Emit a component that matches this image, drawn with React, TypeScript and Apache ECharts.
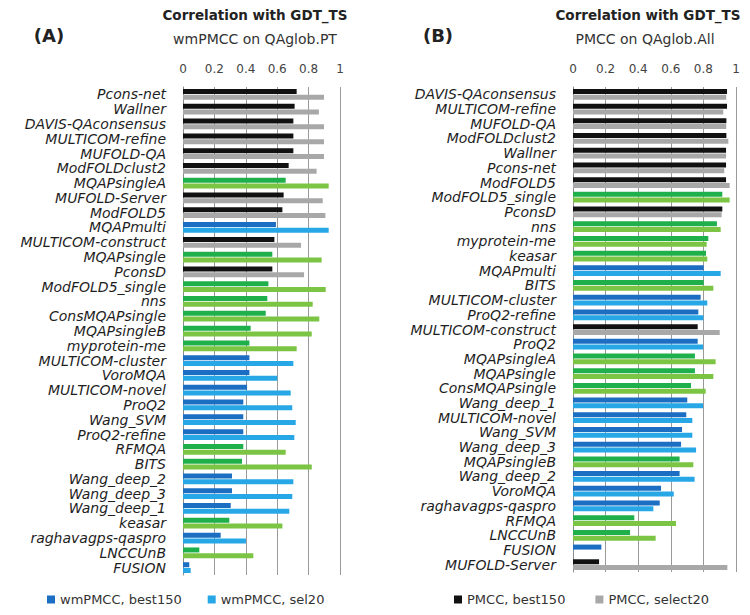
import React, { useEffect, useRef } from "react";
import * as echarts from "echarts";

// Panel A: wmPMCC on QAglob.PT
const methodsA = [
  "Pcons-net", "Wallner", "DAVIS-QAconsensus", "MULTICOM-refine", "MUFOLD-QA",
  "ModFOLDclust2", "MQAPsingleA", "MUFOLD-Server", "ModFOLD5", "MQAPmulti",
  "MULTICOM-construct", "MQAPsingle", "PconsD", "ModFOLD5_single", "nns",
  "ConsMQAPsingle", "MQAPsingleB", "myprotein-me", "MULTICOM-cluster", "VoroMQA",
  "MULTICOM-novel", "ProQ2", "Wang_SVM", "ProQ2-refine", "RFMQA", "BITS",
  "Wang_deep_2", "Wang_deep_3", "Wang_deep_1", "keasar", "raghavagps-qaspro",
  "LNCCUnB", "FUSION",
];
const best150A = [
  0.724, 0.711, 0.703, 0.703, 0.703, 0.673, 0.654, 0.641, 0.633, 0.592,
  0.582, 0.569, 0.569, 0.544, 0.537, 0.527, 0.431, 0.423, 0.423, 0.423,
  0.408, 0.384, 0.384, 0.384, 0.384, 0.376, 0.312, 0.312, 0.304, 0.295,
  0.24, 0.104, 0.04,
];
const sel20A = [
  0.898, 0.866, 0.898, 0.898, 0.898, 0.851, 0.928, 0.89, 0.907, 0.928,
  0.752, 0.883, 0.771, 0.909, 0.826, 0.868, 0.82, 0.724, 0.703, 0.601,
  0.686, 0.696, 0.718, 0.709, 0.654, 0.82, 0.703, 0.696, 0.677, 0.633,
  0.401, 0.448, 0.049,
];

// Panel B: PMCC on QAglob.All
const methodsB = [
  "DAVIS-QAconsensus", "MULTICOM-refine", "MUFOLD-QA", "ModFOLDclust2", "Wallner",
  "Pcons-net", "ModFOLD5", "ModFOLD5_single", "PconsD", "nns", "myprotein-me",
  "keasar", "MQAPmulti", "BITS", "MULTICOM-cluster", "ProQ2-refine",
  "MULTICOM-construct", "ProQ2", "MQAPsingleA", "MQAPsingle", "ConsMQAPsingle",
  "Wang_deep_1", "MULTICOM-novel", "Wang_SVM", "Wang_deep_3", "MQAPsingleB",
  "Wang_deep_2", "VoroMQA", "raghavagps-qaspro", "RFMQA", "LNCCUnB", "FUSION",
  "MUFOLD-Server",
];
const best150B = [
  0.945, 0.945, 0.941, 0.941, 0.939, 0.939, 0.939, 0.916, 0.916, 0.883, 0.83,
  0.816, 0.802, 0.802, 0.783, 0.769, 0.765, 0.765, 0.748, 0.748, 0.724,
  0.701, 0.695, 0.669, 0.663, 0.654, 0.654, 0.54, 0.532, 0.376, 0.35, 0.174,
  0.16,
];
const select20B = [
  0.94, 0.922, 0.94, 0.953, 0.939, 0.928, 0.961, 0.961, 0.912, 0.906, 0.82,
  0.824, 0.906, 0.861, 0.824, 0.8, 0.9, 0.798, 0.875, 0.861, 0.814,
  0.798, 0.732, 0.732, 0.755, 0.738, 0.746, 0.618, 0.493, 0.632, 0.507, 0,
  0.947,
];

// Method classes: consensus (black/grey), single-model (greens), others (blues)
const consensusMethods = [
  "Pcons-net", "Wallner", "DAVIS-QAconsensus", "MULTICOM-refine", "MUFOLD-QA",
  "ModFOLDclust2", "MUFOLD-Server", "ModFOLD5", "MULTICOM-construct", "PconsD",
];
const singleMethods = [
  "MQAPsingleA", "MQAPsingle", "ModFOLD5_single", "nns", "ConsMQAPsingle",
  "MQAPsingleB", "myprotein-me", "RFMQA", "BITS", "keasar", "LNCCUnB",
];

const COLORS = {
  c: ["#111111", "#a8a8a8"],
  s: ["#1fb04c", "#7cc443"],
  q: ["#1b6ec2", "#27a7e6"],
};

function cls(name: string): "c" | "s" | "q" {
  if (consensusMethods.includes(name)) return "c";
  if (singleMethods.includes(name)) return "s";
  return "q";
}

function coloredData(names: string[], vals: number[], idx: number) {
  return vals.map((v, i) => ({
    value: v,
    itemStyle: { color: COLORS[cls(names[i])][idx] },
  }));
}

const FONT = "DejaVu Sans";

function makeY(gridIndex: number, data: string[]) {
  return {
    type: "category",
    gridIndex,
    data,
    inverse: true,
    axisTick: { show: false },
    axisLine: { show: true, lineStyle: { color: "#8c8c8c", width: 1 } },
    axisLabel: {
      fontStyle: "italic",
      fontFamily: FONT,
      fontSize: 14,
      lineHeight: 14,
      color: "#1e1e1e",
      margin: 17,
      interval: 0,
    },
  };
}

function makeX(gridIndex: number) {
  return {
    type: "value",
    gridIndex,
    position: "top",
    min: 0,
    max: 1,
    interval: 0.2,
    axisLine: { show: false },
    axisTick: { show: false },
    axisLabel: {
      fontFamily: FONT,
      fontSize: 12,
      color: "#444",
      margin: 12,
    },
    splitLine: { show: true, lineStyle: { color: "#9a9a9a", width: 1 } },
  };
}

const titleStyle = { fontFamily: FONT, fontSize: 13.5, fontWeight: "bold", color: "#222" };
const subStyle = { fontFamily: FONT, fontSize: 14, fontWeight: "normal", color: "#333" };
const tagStyle = { fontFamily: FONT, fontSize: 18, fontWeight: "bold", color: "#222" };
const legendText = { fontFamily: FONT, fontSize: 13, color: "#333" };

export default function App() {
  const ref = useRef<HTMLDivElement>(null);
  useEffect(() => {
    if (!ref.current) return;
    const chart = echarts.init(ref.current, null, { renderer: "svg" });
    const barBase = { type: "bar", barWidth: 5, barGap: "15%", barCategoryGap: "30%" };
    chart.setOption({
      animation: false,
      backgroundColor: "#ffffff",
      title: [
        { text: "Correlation with GDT_TS", left: 255, top: 8, textAlign: "center", padding: 0, textStyle: titleStyle },
        { text: "wmPMCC on QAglob.PT", left: 255, top: 32, textAlign: "center", padding: 0, textStyle: subStyle },
        { text: "(A)", left: 49, top: 26, textAlign: "center", padding: 0, textStyle: tagStyle },
        { text: "Correlation with GDT_TS", left: 648, top: 8, textAlign: "center", padding: 0, textStyle: titleStyle },
        { text: "PMCC on QAglob.All", left: 645, top: 32, textAlign: "center", padding: 0, textStyle: subStyle },
        { text: "(B)", left: 438, top: 26, textAlign: "center", padding: 0, textStyle: tagStyle },
      ],
      legend: [
        {
          data: ["wmPMCC, best150", "wmPMCC, sel20"],
          left: 47,
          top: 593,
          padding: 0,
          icon: "rect",
          itemWidth: 8,
          itemHeight: 8,
          itemGap: 26,
          textStyle: legendText,
        },
        {
          data: ["PMCC, best150", "PMCC, select20"],
          left: 454,
          top: 593,
          padding: 0,
          icon: "rect",
          itemWidth: 8,
          itemHeight: 8,
          itemGap: 30,
          textStyle: legendText,
        },
      ],
      grid: [
        { left: 183, width: 157, top: 87, height: 488 },
        { left: 573, width: 163, top: 87, height: 485 },
      ],
      xAxis: [makeX(0), makeX(1)],
      yAxis: [makeY(0, methodsA), makeY(1, methodsB)],
      series: [
        {
          ...barBase,
          name: "wmPMCC, best150",
          xAxisIndex: 0,
          yAxisIndex: 0,
          color: COLORS.q[0],
          data: coloredData(methodsA, best150A, 0),
        },
        {
          ...barBase,
          name: "wmPMCC, sel20",
          xAxisIndex: 0,
          yAxisIndex: 0,
          color: COLORS.q[1],
          data: coloredData(methodsA, sel20A, 1),
        },
        {
          ...barBase,
          name: "PMCC, best150",
          xAxisIndex: 1,
          yAxisIndex: 1,
          color: COLORS.c[0],
          data: coloredData(methodsB, best150B, 0),
        },
        {
          ...barBase,
          name: "PMCC, select20",
          xAxisIndex: 1,
          yAxisIndex: 1,
          color: COLORS.c[1],
          data: coloredData(methodsB, select20B, 1),
        },
      ],
    });
    return () => chart.dispose();
  }, []);
  return <div ref={ref} style={{ width: 750, height: 615, margin: -8 }} />;
}
